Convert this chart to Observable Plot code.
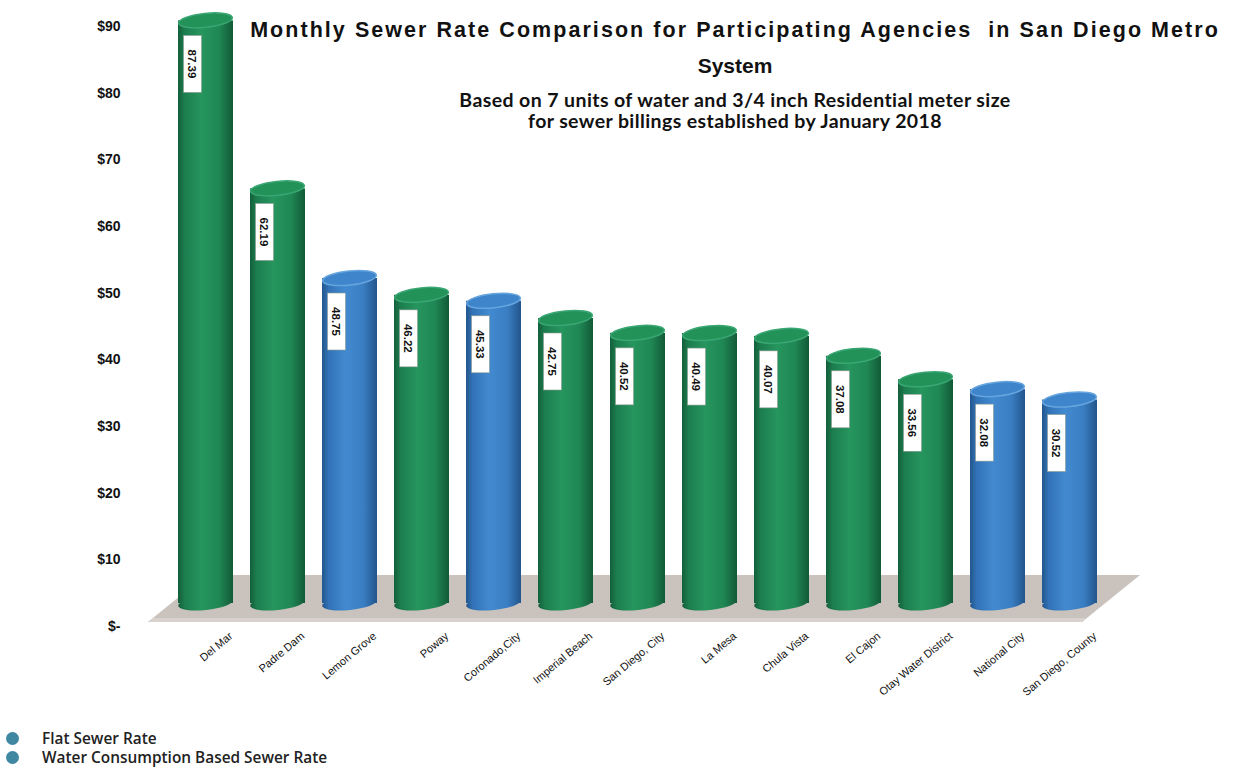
<!DOCTYPE html>
<html><head><meta charset="utf-8">
<script src="https://cdn.jsdelivr.net/npm/d3@7"></script>
<script src="https://cdn.jsdelivr.net/npm/@observablehq/plot@0.6"></script>
<style>
body{margin:0;background:#fff;width:1237px;height:774px;overflow:hidden;position:relative;font-family:"Liberation Sans",Arial,sans-serif}
#chart{position:absolute;left:0;top:0}
.title{position:absolute;left:235px;width:1000px;text-align:center;font-weight:bold;color:#111}
.title .l1{display:block;font-size:21.5px;letter-spacing:2.05px;line-height:24px;height:24px;margin-top:0}
.title .l2{display:block;font-size:21px;line-height:24px;margin-top:12px}
.sub{position:absolute;left:235px;width:1000px;text-align:center;font-family:"Lato",sans-serif;font-weight:700;font-size:19.5px;letter-spacing:0.4px;color:#111;line-height:21px}
.legend{position:absolute;left:0;top:729px;font-family:"Open Sans",sans-serif;font-weight:600;font-size:15.4px;color:#222}
.legend .row{display:flex;align-items:center;height:19px}
.legend .dot{width:13px;height:13px;border-radius:50%;margin-left:6px;margin-right:23px}
</style></head><body>
<div id="chart"></div>
<div class="title" style="top:18px"><span class="l1">Monthly Sewer Rate Comparison for Participating Agencies&nbsp; in San Diego Metro</span><span class="l2">System</span></div>
<div class="sub" style="top:89px">Based on 7 units of water and 3/4 inch Residential meter size<br>for sewer billings established by January 2018</div>
<div class="legend" id="legend"></div>
<script>
const agencies = ["Del Mar","Padre Dam","Lemon Grove","Poway","Coronado,City","Imperial Beach","San Diego, City","La Mesa","Chula Vista","El Cajon","Otay Water District","National City","San Diego, County"];
const rates = [87.39,62.19,48.75,46.22,45.33,42.75,40.52,40.49,40.07,37.08,33.56,32.08,30.52];
const rateTypes = ["flat","flat","consumption","flat","consumption","flat","flat","flat","flat","flat","flat","consumption","consumption"];
const yTicks = [0,10,20,30,40,50,60,70,80,90];
const legendLabels = ["Flat Sewer Rate","Water Consumption Based Sewer Rate"];
const legendColors = ["#3f87a2","#3f87a2"];

const data = agencies.map((name,i)=>({name, value: rates[i], type: rateTypes[i]}));

const pal = {
  flat: {grad:"url(#gGreen)", top:"#239259", rim:"#3aa673"},
  consumption: {grad:"url(#gBlue)", top:"#3f85cb", rim:"#66a5de"}
};

function defsMark(){
  const g = d3.create("svg:g");
  const defs = g.append("defs");
  const mk = (id, stops) => {
    const lg = defs.append("linearGradient").attr("id", id).attr("x1","0").attr("x2","1").attr("y1","0").attr("y2","0");
    stops.forEach(([o,c]) => lg.append("stop").attr("offset", o).attr("stop-color", c));
  };
  mk("gGreen", [["0","#135f3a"],["0.12","#1c7d4e"],["0.42","#26955e"],["0.75","#1f8754"],["1","#125a37"]]);
  mk("gBlue", [["0","#23568d"],["0.12","#3272b6"],["0.42","#428ad0"],["0.75","#3a7ec3"],["1","#22558b"]]);
  return g.node();
}

function floorMark(index, scales){
  const x = scales.x, y = scales.y;
  const bw = x.bandwidth();
  const x0 = x(agencies[0]), x1 = x(agencies[agencies.length-1]) + bw;
  const y0 = y(0);
  const fl = x0 - 30, fr = x1 - 15, front = y0 + 19, back = y0 - 28, shift = 58;
  const g = d3.create("svg:g");
  g.append("path").attr("d", `M${fl},${front}L${fr},${front}L${fr+shift},${back}L${fl+shift},${back}Z`).attr("fill","#cac2bd");
  g.append("path").attr("d", `M${fl},${front}L${fr},${front}L${fr+5},${front-4}L${fl+5},${front-4}Z`).attr("fill","#d8d1cd");
  return g.node();
}

function bottomsMark(index, scales){
  const x = scales.x, y = scales.y, bw = x.bandwidth();
  const g = d3.create("svg:g");
  data.forEach(d => {
    const cx = x(d.name) + bw/2, cy = y(0);
    g.append("ellipse").attr("cx",cx).attr("cy",cy).attr("rx",bw/2).attr("ry",7)
      .attr("transform",`rotate(-6,${cx},${cy})`).attr("fill", pal[d.type].grad);
  });
  return g.node();
}

function topsMark(index, scales){
  const x = scales.x, y = scales.y, bw = x.bandwidth();
  const g = d3.create("svg:g");
  data.forEach(d => {
    const cx = x(d.name) + bw/2, cy = y(d.value);
    g.append("ellipse").attr("cx",cx).attr("cy",cy).attr("rx",bw/2 - 0.5).attr("ry",7)
      .attr("transform",`rotate(-6,${cx},${cy})`).attr("fill", pal[d.type].top)
      .attr("stroke", pal[d.type].rim).attr("stroke-width",1.5);
    const bx = cx - 22, by = cy + 15, bwid = 18, bh = 57;
    g.append("rect").attr("x",bx).attr("y",by).attr("width",bwid).attr("height",bh)
      .attr("fill","#fff").attr("stroke","#8a9a92").attr("stroke-width",0.6);
    g.append("text").attr("transform",`translate(${bx+bwid/2},${by+bh/2}) rotate(90)`)
      .attr("text-anchor","middle").attr("dy","0.35em")
      .attr("font-size",11.5).attr("font-weight","bold").attr("fill","#111")
      .text(d.value.toFixed(2));
  });
  return g.node();
}

const chart = Plot.plot({
  width: 1237, height: 720,
  marginLeft: 157, marginRight: 119, marginTop: 3, marginBottom: 117,
  style: {fontFamily: "'Liberation Sans', Arial, sans-serif", background: "transparent"},
  x: {domain: agencies, padding: 0.23, label: null},
  y: {domain: [0, 90], label: null},
  marks: [
    defsMark,
    floorMark,
    bottomsMark,
    Plot.barY(data, {x: "name", y: "value", fill: d => pal[d.type].grad}),
    topsMark,
    Plot.axisY({ticks: yTicks, tickFormat: d => d === 0 ? "$-" : `$${d}`, tickSize: 0, tickPadding: 37, dy: 23, fontSize: 14, fontWeight: "bold", fill: "#111", label: null}),
    Plot.axisX({tickSize: 0, tickPadding: 0, tickRotate: -40, dx: 25, dy: 31, fontSize: 11, fill: "#111", label: null})
  ],
  color: {type: "identity"}
});
document.getElementById("chart").append(chart);

const leg = d3.select("#legend");
legendLabels.forEach((t,i) => {
  const r = leg.append("div").attr("class","row");
  r.append("div").attr("class","dot").style("background", legendColors[i]);
  r.append("span").text(t);
});
</script>
</body></html>
